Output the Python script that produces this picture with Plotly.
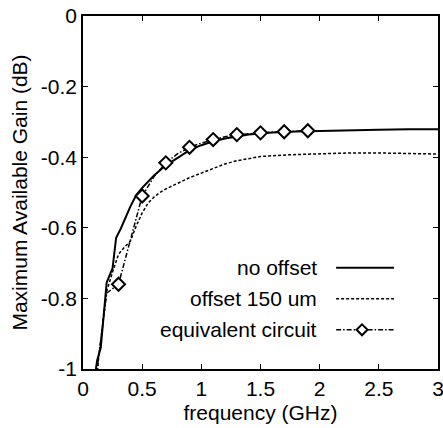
import plotly.graph_objects as go

# ---- data ----
f_no_offset = [0.10, 0.12, 0.15, 0.20, 0.25, 0.28, 0.32, 0.35, 0.40, 0.45, 0.50, 0.60, 0.70,
               0.80, 0.90, 1.00, 1.10, 1.20, 1.30, 1.40, 1.50, 1.60, 1.80, 2.00, 2.25, 2.50,
               2.75, 3.00]
g_no_offset = [-1.02, -0.975, -0.94, -0.755, -0.714, -0.628, -0.602, -0.578, -0.540, -0.507,
               -0.487, -0.452, -0.423, -0.402, -0.380, -0.366, -0.355, -0.347, -0.341,
               -0.336, -0.333, -0.330, -0.327, -0.325, -0.323, -0.322, -0.321, -0.321]

f_offset = [0.12, 0.13, 0.15, 0.20, 0.25, 0.30, 0.35, 0.40, 0.45, 0.50, 0.55, 0.60, 0.65,
            0.70, 0.80, 0.90, 1.00, 1.10, 1.20, 1.30, 1.40, 1.50, 1.75, 2.00, 2.25, 2.50,
            2.75, 3.00]
g_offset = [-1.02, -0.975, -0.92, -0.78, -0.725, -0.675, -0.655, -0.638, -0.595, -0.558,
            -0.530, -0.513, -0.500, -0.490, -0.474, -0.458, -0.445, -0.432, -0.419, -0.410,
            -0.403, -0.398, -0.393, -0.390, -0.388, -0.388, -0.389, -0.391]

f_eq = [0.10, 0.20, 0.30, 0.40, 0.50, 0.60, 0.70, 0.80, 0.90, 1.00, 1.10, 1.20, 1.30, 1.40,
        1.50, 1.60, 1.70, 1.80, 1.90]
g_eq = [-1.05, -0.785, -0.760, -0.635, -0.510, -0.455, -0.416, -0.390, -0.372, -0.360,
        -0.350, -0.342, -0.336, -0.333, -0.331, -0.329, -0.328, -0.326, -0.325]
f_eq_markers = [0.3, 0.5, 0.7, 0.9, 1.1, 1.3, 1.5, 1.7, 1.9]
g_eq_markers = [-0.760, -0.510, -0.416, -0.372, -0.350, -0.336, -0.331, -0.328, -0.325]

x_tickvals = [0, 0.5, 1, 1.5, 2, 2.5, 3]
x_ticktext = ["0", "0.5", "1", "1.5", "2", "2.5", "3"]
y_tickvals = [0, -0.2, -0.4, -0.6, -0.8, -1]
y_ticktext = ["0", "-0.2", "-0.4", "-0.6", "-0.8", "-1"]

legend_names = ["no offset", "offset 150 um", "equivalent circuit"]

FONT = "Liberation Sans, Arial, Helvetica, sans-serif"
FS = 21
EQ_DASH = "5px,2px,1.5px,2px"
OFF_DASH = "3px,2px"

fig = go.Figure()
fig.add_trace(go.Scatter(x=f_no_offset, y=g_no_offset, mode="lines",
                         line=dict(color="black", width=2), showlegend=False))
fig.add_trace(go.Scatter(x=f_offset, y=g_offset, mode="lines",
                         line=dict(color="black", width=1.5, dash=OFF_DASH), showlegend=False))
fig.add_trace(go.Scatter(x=f_eq, y=g_eq, mode="lines",
                         line=dict(color="black", width=1.5, dash=EQ_DASH), showlegend=False))
fig.add_trace(go.Scatter(x=f_eq_markers, y=g_eq_markers, mode="markers",
                         marker=dict(symbol="diamond", size=10, color="white",
                                     line=dict(color="black", width=2)),
                         showlegend=False, cliponaxis=False))

# ---- custom legend (text left of line sample) ----
rows_y = [0.287, 0.199, 0.111]
line_x0, line_x1 = 0.713, 0.876
text_x = 0.665
styles = [dict(width=2), dict(width=1.5, dash=OFF_DASH), dict(width=1.5, dash=EQ_DASH)]
for name, yy, st in zip(legend_names, rows_y, styles):
    fig.add_annotation(x=text_x, y=yy, xref="paper", yref="paper", text=name,
                       showarrow=False, xanchor="right", yanchor="middle",
                       font=dict(family=FONT, size=FS, color="black"))
    fig.add_shape(type="line", xref="paper", yref="paper", x0=line_x0, x1=line_x1,
                  y0=yy, y1=yy, line=dict(color="black", **st))
# diamond in legend
dx, dy, cx, cy = 0.0155, 0.0155, 0.786, rows_y[2]
fig.add_shape(type="path", xref="paper", yref="paper",
              path=f"M {cx},{cy+dy} L {cx+dx},{cy} L {cx},{cy-dy} L {cx-dx},{cy} Z",
              fillcolor="white", line=dict(color="black", width=2))

axis_common = dict(showgrid=False, zeroline=False, showline=True, linecolor="black",
                   linewidth=1.5, mirror="ticks", ticks="inside", ticklen=5,
                   tickwidth=1.2, tickcolor="black", automargin=False,
                   ticklabeloverflow="allow",
                   tickfont=dict(family=FONT, size=FS, color="black"))
fig.update_xaxes(range=[0, 3], tickvals=x_tickvals, ticktext=x_ticktext,
                 title=dict(text="frequency (GHz)", font=dict(family=FONT, size=FS, color="black"),
                            standoff=6),
                 **axis_common)
fig.update_yaxes(range=[-1, 0], tickvals=y_tickvals, ticktext=y_ticktext,
                 title=dict(text="Maximum Available Gain (dB)",
                            font=dict(family=FONT, size=FS, color="black"), standoff=8),
                 **axis_common)
fig.update_layout(width=443, height=428, margin=dict(l=83, r=5, t=16, b=59),
                  plot_bgcolor="white", paper_bgcolor="white",
                  font=dict(family=FONT, size=FS, color="black"))

fig.write_html("out.html")
